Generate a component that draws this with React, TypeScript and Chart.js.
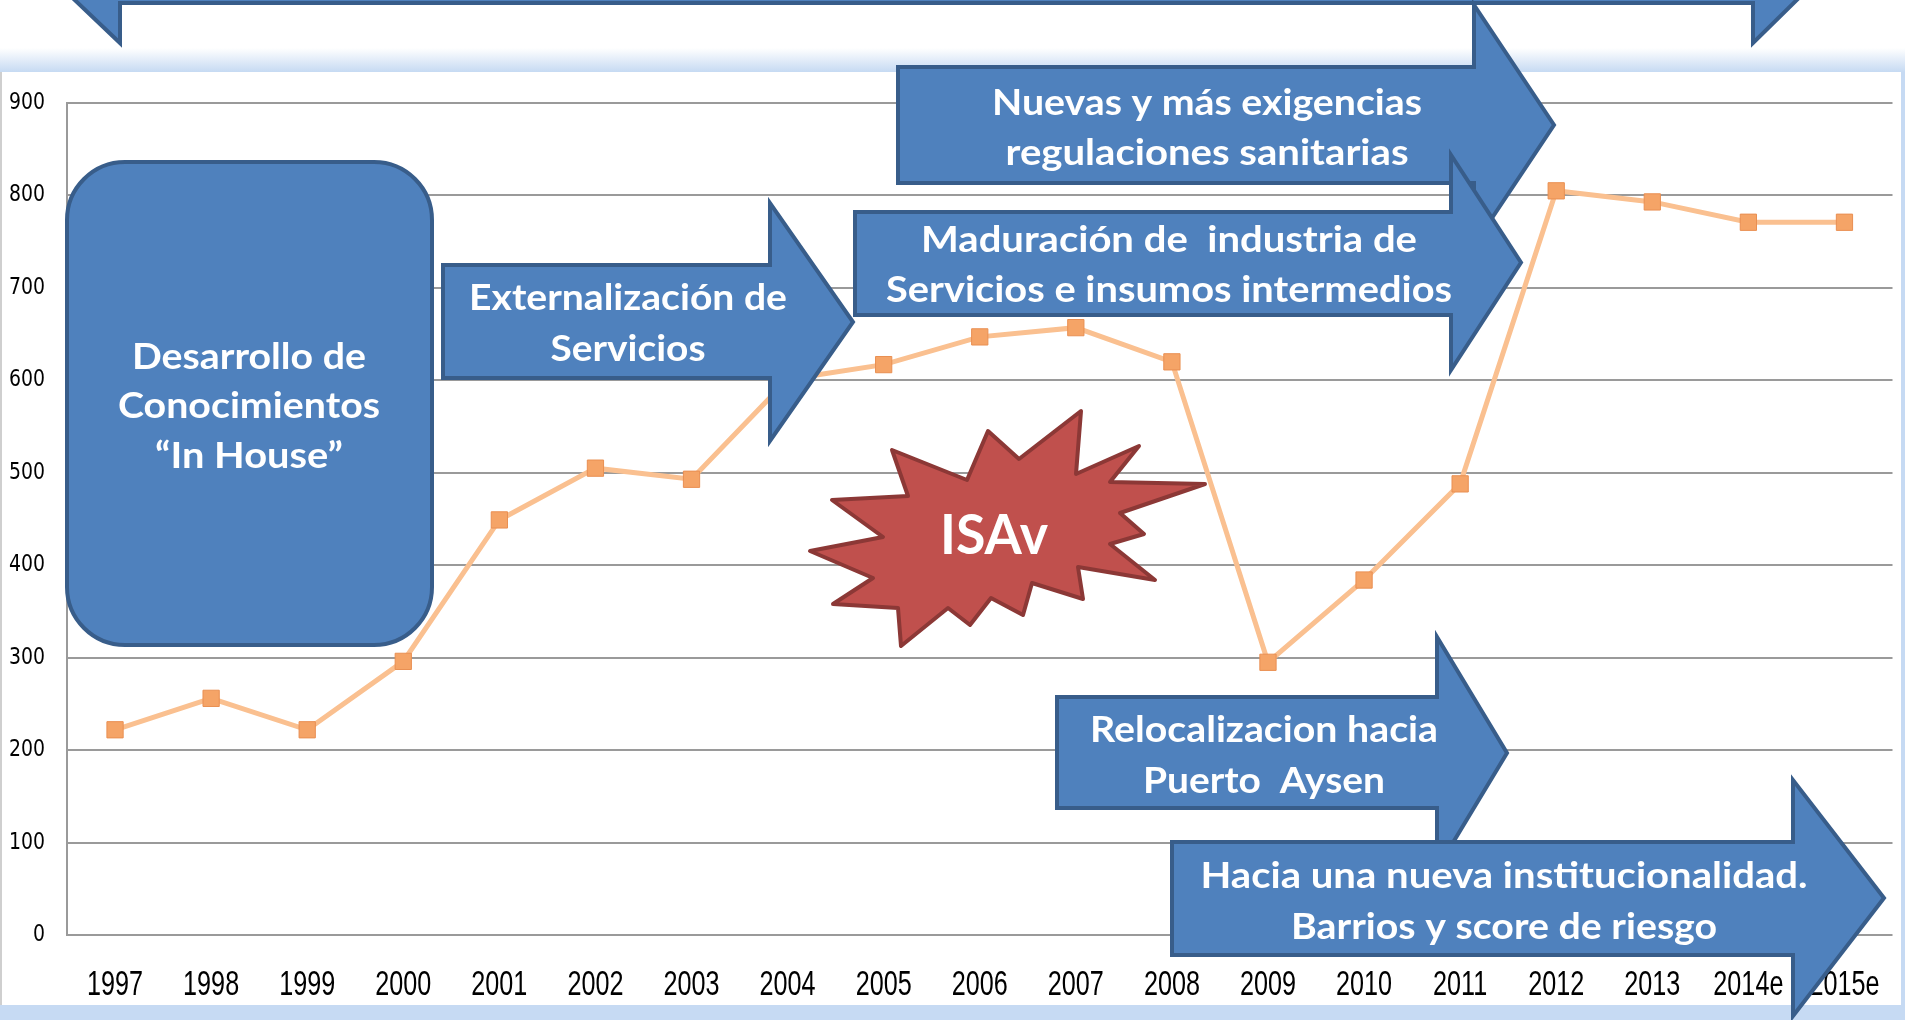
import React, { useEffect, useRef } from 'react';
import { Chart, registerables, CategoryScale, LinearScale } from 'chart.js';

Chart.register(...registerables);

// ---- data ----
const years = ['1997', '1998', '1999', '2000', '2001', '2002', '2003', '2004', '2005', '2006', '2007', '2008', '2009', '2010', '2011', '2012', '2013', '2014e', '2015e'];
const values = [222, 256, 222, 296, 449, 505, 493, 601, 617, 647, 657, 620, 295, 384, 488, 805, 793, 771, 771];
const yMin = 0;
const yMax = 900;
const yStep = 100;

// ---- annotation texts ----
const boxLines = ['Desarrollo de', 'Conocimientos', '\u201CIn House\u201D'];
const extLines = ['Externalizaci\u00F3n de', 'Servicios'];
const nuevasLines = ['Nuevas y m\u00E1s exigencias', 'regulaciones sanitarias'];
const madLines = ['Maduraci\u00F3n de  industria de', 'Servicios e insumos intermedios'];
const relocLines = ['Relocalizacion hacia', 'Puerto  Aysen'];
const haciaLines = ['Hacia una nueva institucionalidad.', 'Barrios y score de riesgo'];
const burstLabel = 'ISAv';

const W = 1905;
const H = 1020;
const BLUE = '#4F81BD';
const BLUE_DARK = '#385D8A';

// ---- axis label condensing (tick labels of the reference are narrow & tall) ----
function drawCondensedLabels(scale: any, chartArea: any, k: number) {
  if (!scale.options.ticks.display) return;
  const ctx: CanvasRenderingContext2D = scale.ctx;
  const items = scale.getLabelItems(chartArea);
  for (const item of items) {
    const o = item.options;
    ctx.save();
    ctx.font = item.font.string;
    ctx.translate(o.translation[0], o.translation[1]);
    if (o.rotation) ctx.rotate(o.rotation);
    ctx.scale(k, 1);
    ctx.fillStyle = o.color;
    ctx.textAlign = o.textAlign;
    ctx.textBaseline = o.textBaseline;
    const lines = Array.isArray(item.label) ? item.label : [item.label];
    let y = item.textOffset;
    for (const line of lines) {
      ctx.fillText(String(line), 0, y);
      y += Number(item.font.lineHeight);
    }
    ctx.restore();
  }
}

class CondensedCategoryScale extends (CategoryScale as any) {
  static id = 'condensedCategory';
  static defaults = (CategoryScale as any).defaults;
  drawLabels(chartArea: any) {
    drawCondensedLabels(this, chartArea, (this as any).options.ticks.condense ?? 1);
  }
}

class CondensedLinearScale extends (LinearScale as any) {
  static id = 'condensedLinear';
  static defaults = (LinearScale as any).defaults;
  drawLabels(chartArea: any) {
    drawCondensedLabels(this, chartArea, (this as any).options.ticks.condense ?? 1);
  }
}

Chart.register(CondensedCategoryScale as any, CondensedLinearScale as any);

type ArrowSpec = { x0: number; x1: number; bt: number; bb: number; ht: number; hb: number; tip: number };

const arrows: { a: ArrowSpec; lines: string[]; cx: number; base: number[]; widths: number[] }[] = [
  { a: { x0: 443, x1: 770, bt: 265, bb: 378, ht: 203, hb: 441, tip: 853 }, lines: extLines, cx: 628, base: [310, 361], widths: [318, 155] },
  { a: { x0: 898, x1: 1474, bt: 67, bb: 183, ht: 5, hb: 245, tip: 1554 }, lines: nuevasLines, cx: 1207, base: [115, 165], widths: [430, 403] },
  { a: { x0: 855, x1: 1451, bt: 212, bb: 315, ht: 155, hb: 370, tip: 1521 }, lines: madLines, cx: 1169, base: [252, 302], widths: [496, 566] },
  { a: { x0: 1057, x1: 1437, bt: 697, bb: 808, ht: 637, hb: 869, tip: 1507 }, lines: relocLines, cx: 1264, base: [742, 793], widths: [348, 242] },
  { a: { x0: 1172, x1: 1793, bt: 842, bb: 955, ht: 780, hb: 1016, tip: 1884 }, lines: haciaLines, cx: 1504, base: [888, 939], widths: [607, 426] },
];

const burstPts: [number, number][] = [
  [810, 551], [883, 537], [832, 500], [908, 496], [892, 450], [967, 480], [988, 431], [1019, 459],
  [1081, 411], [1076, 474], [1139, 446], [1110, 482], [1205, 484], [1120, 513], [1144, 534], [1110, 544],
  [1155, 580], [1078, 567], [1083, 599], [1032, 583], [1023, 615], [991, 598], [970, 625], [948, 608],
  [901, 646], [898, 608], [833, 604], [873, 578],
];

const TEXT_FONT = "Lato, 'Open Sans', 'DejaVu Sans', sans-serif";

function drawFitText(ctx: CanvasRenderingContext2D, s: string, cx: number, baseline: number, w: number, size: number) {
  ctx.save();
  ctx.font = `bold ${size}px ${TEXT_FONT}`;
  const m = ctx.measureText(s).width;
  ctx.translate(cx, baseline);
  ctx.scale(w / m, 1);
  ctx.textAlign = 'center';
  ctx.textBaseline = 'alphabetic';
  ctx.fillStyle = '#ffffff';
  ctx.fillText(s, 0, 0);
  ctx.restore();
}

function drawArrow(ctx: CanvasRenderingContext2D, a: ArrowSpec) {
  ctx.beginPath();
  ctx.moveTo(a.x0, a.bt);
  ctx.lineTo(a.x1, a.bt);
  ctx.lineTo(a.x1, a.ht);
  ctx.lineTo(a.tip, (a.ht + a.hb) / 2);
  ctx.lineTo(a.x1, a.hb);
  ctx.lineTo(a.x1, a.bb);
  ctx.lineTo(a.x0, a.bb);
  ctx.closePath();
  ctx.fillStyle = BLUE;
  ctx.fill();
  ctx.lineWidth = 4;
  ctx.lineJoin = 'miter';
  ctx.strokeStyle = BLUE_DARK;
  ctx.stroke();
}

function roundRect(ctx: CanvasRenderingContext2D, x: number, y: number, w: number, h: number, r: number) {
  ctx.beginPath();
  ctx.moveTo(x + r, y);
  ctx.lineTo(x + w - r, y);
  ctx.arcTo(x + w, y, x + w, y + r, r);
  ctx.lineTo(x + w, y + h - r);
  ctx.arcTo(x + w, y + h, x + w - r, y + h, r);
  ctx.lineTo(x + r, y + h);
  ctx.arcTo(x, y + h, x, y + h - r, r);
  ctx.lineTo(x, y + r);
  ctx.arcTo(x, y, x + r, y, r);
  ctx.closePath();
}

const decor = {
  id: 'decor',
  beforeDraw(chart: any) {
    const ctx: CanvasRenderingContext2D = chart.ctx;
    ctx.save();
    ctx.fillStyle = '#ffffff';
    ctx.fillRect(0, 0, W, H);
    const g = ctx.createLinearGradient(0, 48, 0, 72);
    g.addColorStop(0, 'rgba(198,218,243,0)');
    g.addColorStop(1, '#C6DAF3');
    ctx.fillStyle = g;
    ctx.fillRect(0, 48, W, 24);
    ctx.fillStyle = '#C6DAF3';
    ctx.fillRect(0, 1005, W, 15);
    ctx.fillRect(1901, 72, 4, 933);
    ctx.fillStyle = '#cfcfcf';
    ctx.fillRect(0, 72, 2, 933);
    ctx.restore();
  },
  afterDraw(chart: any) {
    const ctx: CanvasRenderingContext2D = chart.ctx;
    ctx.save();
    // top partial arrow
    ctx.beginPath();
    ctx.moveTo(59, -15);
    ctx.lineTo(120, 43);
    ctx.lineTo(120, 3);
    ctx.lineTo(1753, 3);
    ctx.lineTo(1753, 43);
    ctx.lineTo(1812, -15);
    ctx.closePath();
    ctx.fillStyle = BLUE;
    ctx.fill();
    ctx.lineWidth = 4;
    ctx.strokeStyle = BLUE_DARK;
    ctx.stroke();

    // rounded box
    roundRect(ctx, 67, 162, 365, 483, 58);
    ctx.fillStyle = BLUE;
    ctx.fill();
    ctx.lineWidth = 4;
    ctx.strokeStyle = BLUE_DARK;
    ctx.stroke();
    drawFitText(ctx, boxLines[0], 249, 369, 234, 37);
    drawFitText(ctx, boxLines[1], 249, 418, 262, 37);
    drawFitText(ctx, boxLines[2], 249, 468, 188, 37);

    // arrows
    for (const ar of arrows) {
      drawArrow(ctx, ar.a);
      ar.lines.forEach((s, i) => drawFitText(ctx, s, ar.cx, ar.base[i], ar.widths[i], 37));
    }

    // starburst
    ctx.beginPath();
    burstPts.forEach(([x, y], i) => (i === 0 ? ctx.moveTo(x, y) : ctx.lineTo(x, y)));
    ctx.closePath();
    ctx.fillStyle = '#C0504D';
    ctx.fill();
    ctx.lineWidth = 4;
    ctx.lineJoin = 'round';
    ctx.strokeStyle = '#8C3836';
    ctx.stroke();
    drawFitText(ctx, burstLabel, 994, 554, 108, 56);
    ctx.restore();
  },
};

export default function App() {
  const ref = useRef<HTMLCanvasElement | null>(null);
  useEffect(() => {
    if (!ref.current) return;
    const chart = new Chart(ref.current, {
      type: 'line',
      data: {
        labels: years,
        datasets: [
          {
            data: values,
            borderColor: '#FAC090',
            borderWidth: 5,
            tension: 0,
            pointStyle: 'rect',
            pointRadius: 11.5,
            pointBackgroundColor: '#F5A467',
            pointBorderColor: '#E98F52',
            pointBorderWidth: 1,
          },
        ],
      },
      options: {
        responsive: false,
        animation: false,
        devicePixelRatio: 1,
        layout: { padding: { top: 103, right: 7, left: 0, bottom: 0 } },
        plugins: { legend: { display: false }, tooltip: { enabled: false } },
        scales: {
          x: {
            type: 'condensedCategory' as any,
            offset: true,
            grid: { display: false },
            border: { display: false },
            ticks: {
              color: '#000',
              font: { family: "'Liberation Sans', Arial, sans-serif", size: 35 },
              padding: 21,
              maxRotation: 0,
              autoSkip: false,
              condense: 0.72,
            } as any,
            afterFit: (s: any) => {
              s.height = 85;
              s.paddingLeft = 0;
              s.paddingRight = 0;
            },
          } as any,
          y: {
            type: 'condensedLinear' as any,
            min: yMin,
            max: yMax,
            ticks: {
              stepSize: yStep,
              color: '#000',
              font: { family: "'DejaVu Sans', Verdana, sans-serif", size: 23 },
              padding: 22,
              condense: 0.82,
            } as any,
            grid: { color: '#9a9a9a', lineWidth: 2, drawTicks: false },
            border: { display: true, color: '#9a9a9a', width: 2 },
            afterFit: (s: any) => {
              s.width = 67;
            },
          } as any,
        },
      },
      plugins: [decor],
    });
    return () => chart.destroy();
  }, []);
  return (
    <canvas
      ref={ref}
      width={W}
      height={H}
      style={{ position: 'fixed', left: 0, top: 0, width: W, height: H, display: 'block' }}
    />
  );
}
